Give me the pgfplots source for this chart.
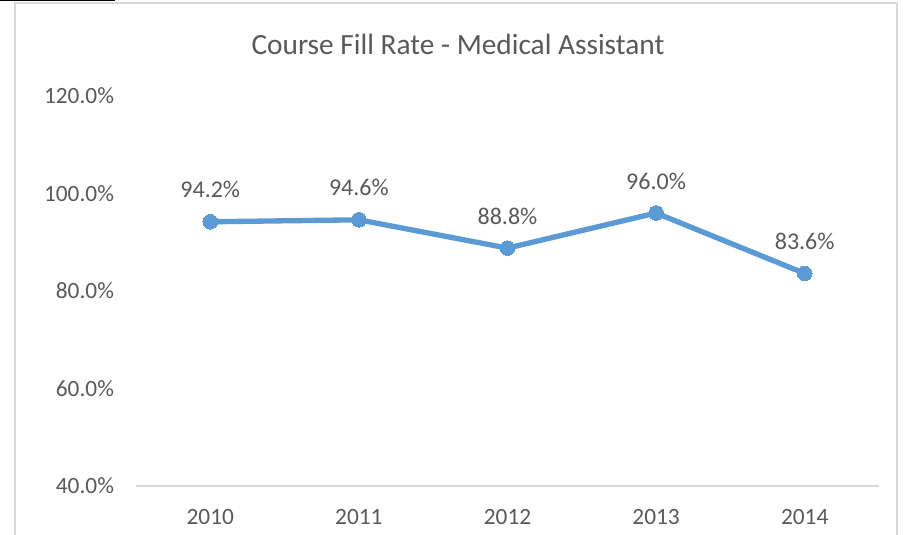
\documentclass[border=0pt]{standalone}
\usepackage{fontspec}
\setmainfont{Carlito}
\usepackage{pgfplots}
\pgfplotsset{compat=1.18}
\definecolor{lineblue}{HTML}{5B9BD5}
\definecolor{txtgray}{HTML}{595959}
\definecolor{rulegray}{HTML}{D9D9D9}
\begin{document}
\begin{tikzpicture}[x=0.75pt,y=0.75pt]
\useasboundingbox (0,0) rectangle (903,535);
% chart frame and the stray rule at the top left (y counted from the bottom)
\draw[rulegray, line width=1pt] (15,532) rectangle (897,-40);
\draw[black, line width=1.5pt] (0,534.5) -- (115,534.5);
\node[txtgray, font=\fontsize{22}{26}\selectfont] at (458,491) {Course Fill Rate - Medical Assistant};
\begin{axis}[
    at={(102pt,36.75pt)}, anchor=south west,
    scale only axis,
    width=557.25pt, height=292.5pt,
    xmin=-0.5, xmax=4.5,
    ymin=40, ymax=120,
    xtick=data,
    xticklabels={2010,2011,2012,2013,2014},
    ytick={40,60,80,100,120},
    yticklabel={\pgfmathprintnumber[fixed,fixed zerofill,precision=1,assume math mode=true]{\tick}\%},
    axis x line*=bottom,
    axis y line*=left,
    x axis line style={rulegray, line width=1pt, -},
    y axis line style={draw=none},
    major tick length=0pt,
    tick style={draw=none},
    tick label style={font=\fontsize{17.5}{21}\selectfont, text=txtgray},
    xticklabel style={anchor=center, yshift=-23pt},
    yticklabel style={anchor=east, xshift=-13pt},
    nodes near coords={\pgfmathprintnumber[fixed,fixed zerofill,precision=1,assume math mode=true]{\pgfplotspointmeta}\%},
    every node near coord/.append style={font=\fontsize{18}{22}\selectfont, text=txtgray, anchor=center, yshift=24pt},
    clip=false,
]
\addplot[lineblue, line width=4pt, mark=*, mark size=5.5pt, mark options={fill=lineblue, draw=lineblue, line width=0pt}]
    coordinates {(0,94.2) (1,94.6) (2,88.8) (3,96.0) (4,83.6)};
\end{axis}
\end{tikzpicture}
\end{document}
